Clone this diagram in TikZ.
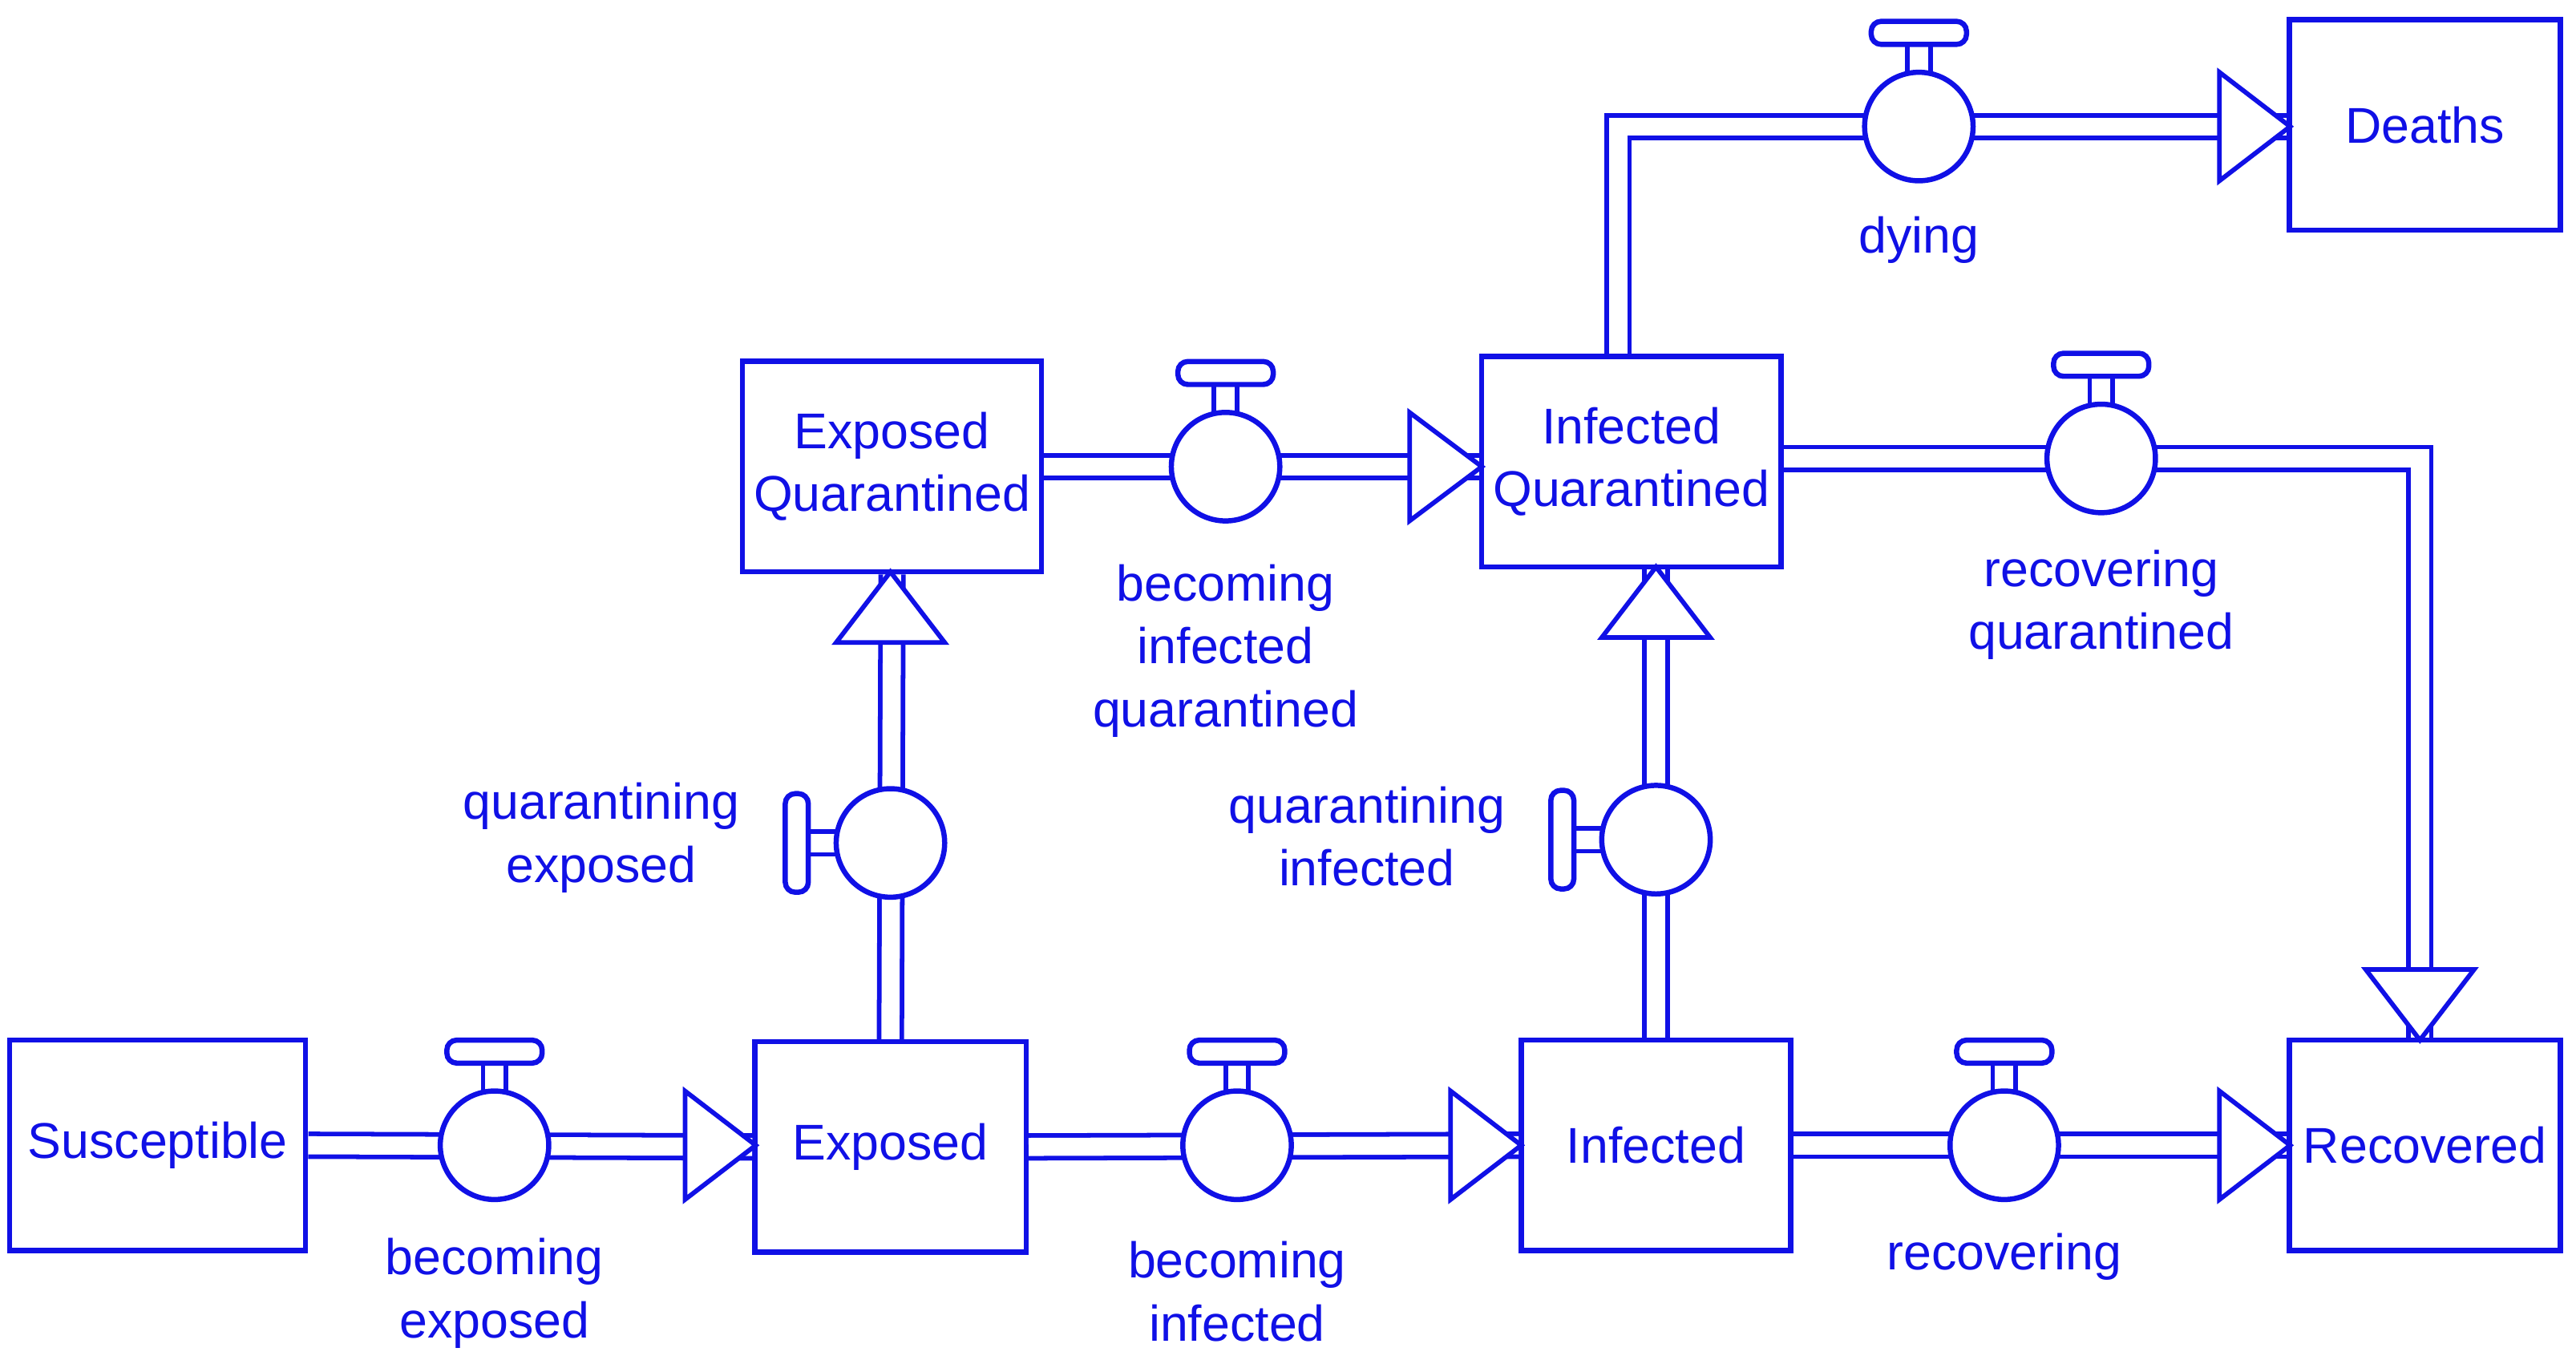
\documentclass[tikz,border=0pt]{standalone}
\usepackage{fontspec}
\setmainfont{Liberation Sans}
\definecolor{fc}{RGB}{16,16,230}
\begin{document}
\begin{tikzpicture}[x=0.01cm,y=-0.01cm,
 box/.style={draw=fc,line width=0.9pt,fill=white,minimum width=#1,minimum height=1.28cm,align=center,text=fc,font=\fontsize{8.7}{10.8}\selectfont,inner sep=0pt},
 pipe/.style={draw=fc,line width=0.8pt,double=white,double distance=0.11cm,line join=miter},
 head/.style={draw=fc,line width=0.8pt,fill=white,line join=miter},
 valve/.style={circle,draw=fc,line width=0.9pt,fill=white,minimum size=0.66cm,inner sep=0pt},
 stem/.style={draw=fc,line width=0.8pt,fill=white},
 pad/.style={draw=fc,line width=0.9pt,fill=white,rounded corners=0.06cm},
 lab/.style={text=fc,align=center,font=\fontsize{8.7}{10.9}\selectfont}]
\useasboundingbox (0,0) rectangle (1568,830);
% boxes
\node[box=1.80cm] (S) at (96,697) {Susceptible};
\node[box=1.65cm] (E) at (542,698) {Exposed};
\node[box=1.64cm] (I) at (1008,697) {Infected};
\node[box=1.65cm] (R) at (1476,697) {Recovered};
\node[box=1.82cm] (EQ) at (543,284) {Exposed\\Quarantined};
\node[box=1.82cm] (IQ) at (993,281) {Infected\\Quarantined};
\node[box=1.65cm] (D) at (1476,76) {Deaths};
% corner coordinates
\coordinate (c1) at (985,77);
\coordinate (c2) at (1473,279);
% pipes
\draw[pipe] (S.east) -- (E.west);
\draw[pipe] (E.east) -- (I.west);
\draw[pipe] (I.east) -- (R.west);
\draw[pipe] (E.north) -- (EQ.south);
\draw[pipe] (I.north) -- (IQ.south -| I.north);
\draw[pipe] (EQ.east) -- (IQ.west |- EQ.east);
\draw[pipe] (IQ.east |- c2) -- (c2) -- (R.north -| c2);
\draw[pipe] (IQ.north -| c1) -- (c1) -- (D.west |- c1);
% arrow heads
\draw[head] (417,664) -- (460,697) -- (417,730) -- cycle;
\draw[head] (883,664) -- (926,697) -- (883,730) -- cycle;
\draw[head] (1351,664) -- (1394,697) -- (1351,730) -- cycle;
\draw[head] (858,251) -- (902,284) -- (858,317) -- cycle;
\draw[head] (1351,44) -- (1394,77) -- (1351,110) -- cycle;
\draw[head] (509,391) -- (542,348) -- (575,391) -- cycle;
\draw[head] (975,388) -- (1008,345) -- (1041,388) -- cycle;
\draw[head] (1440,590) -- (1473,633) -- (1506,590) -- cycle;
% valves (handle up)
\foreach \n/\x/\y in {v1/301/697,v2/753/697,v3/1220/697,v4/746/284,v5/1279/279,v6/1168/77}{
  \draw[stem] (\x-7,\y-50) rectangle (\x+7,\y-32);
  \draw[pad] (\x-29,\y-64) rectangle (\x+29,\y-50);
  \node[valve] (\n) at (\x,\y) {};
}
% valves (handle left)
\foreach \n/\x/\y in {v7/542/513,v8/1008/511}{
  \draw[stem] (\x-50,\y-7) rectangle (\x-32,\y+7);
  \draw[pad] (\x-64,\y-30) rectangle (\x-50,\y+30);
  \node[valve] (\n) at (\x,\y) {};
}
% labels
\node[lab] at (301,787) {becoming\\exposed};
\node[lab] at (753,786) {becoming\\infected};
\node[lab] at (1220,765) {recovering};
\node[lab] at (746,396) {becoming\\infected\\quarantined};
\node[lab] at (1279,368) {recovering\\quarantined};
\node[lab] at (1168,146) {dying};
\node[lab] at (366,510) {quarantining\\exposed};
\node[lab] at (832,509) {quarantining\\infected};
\end{tikzpicture}
\end{document}
